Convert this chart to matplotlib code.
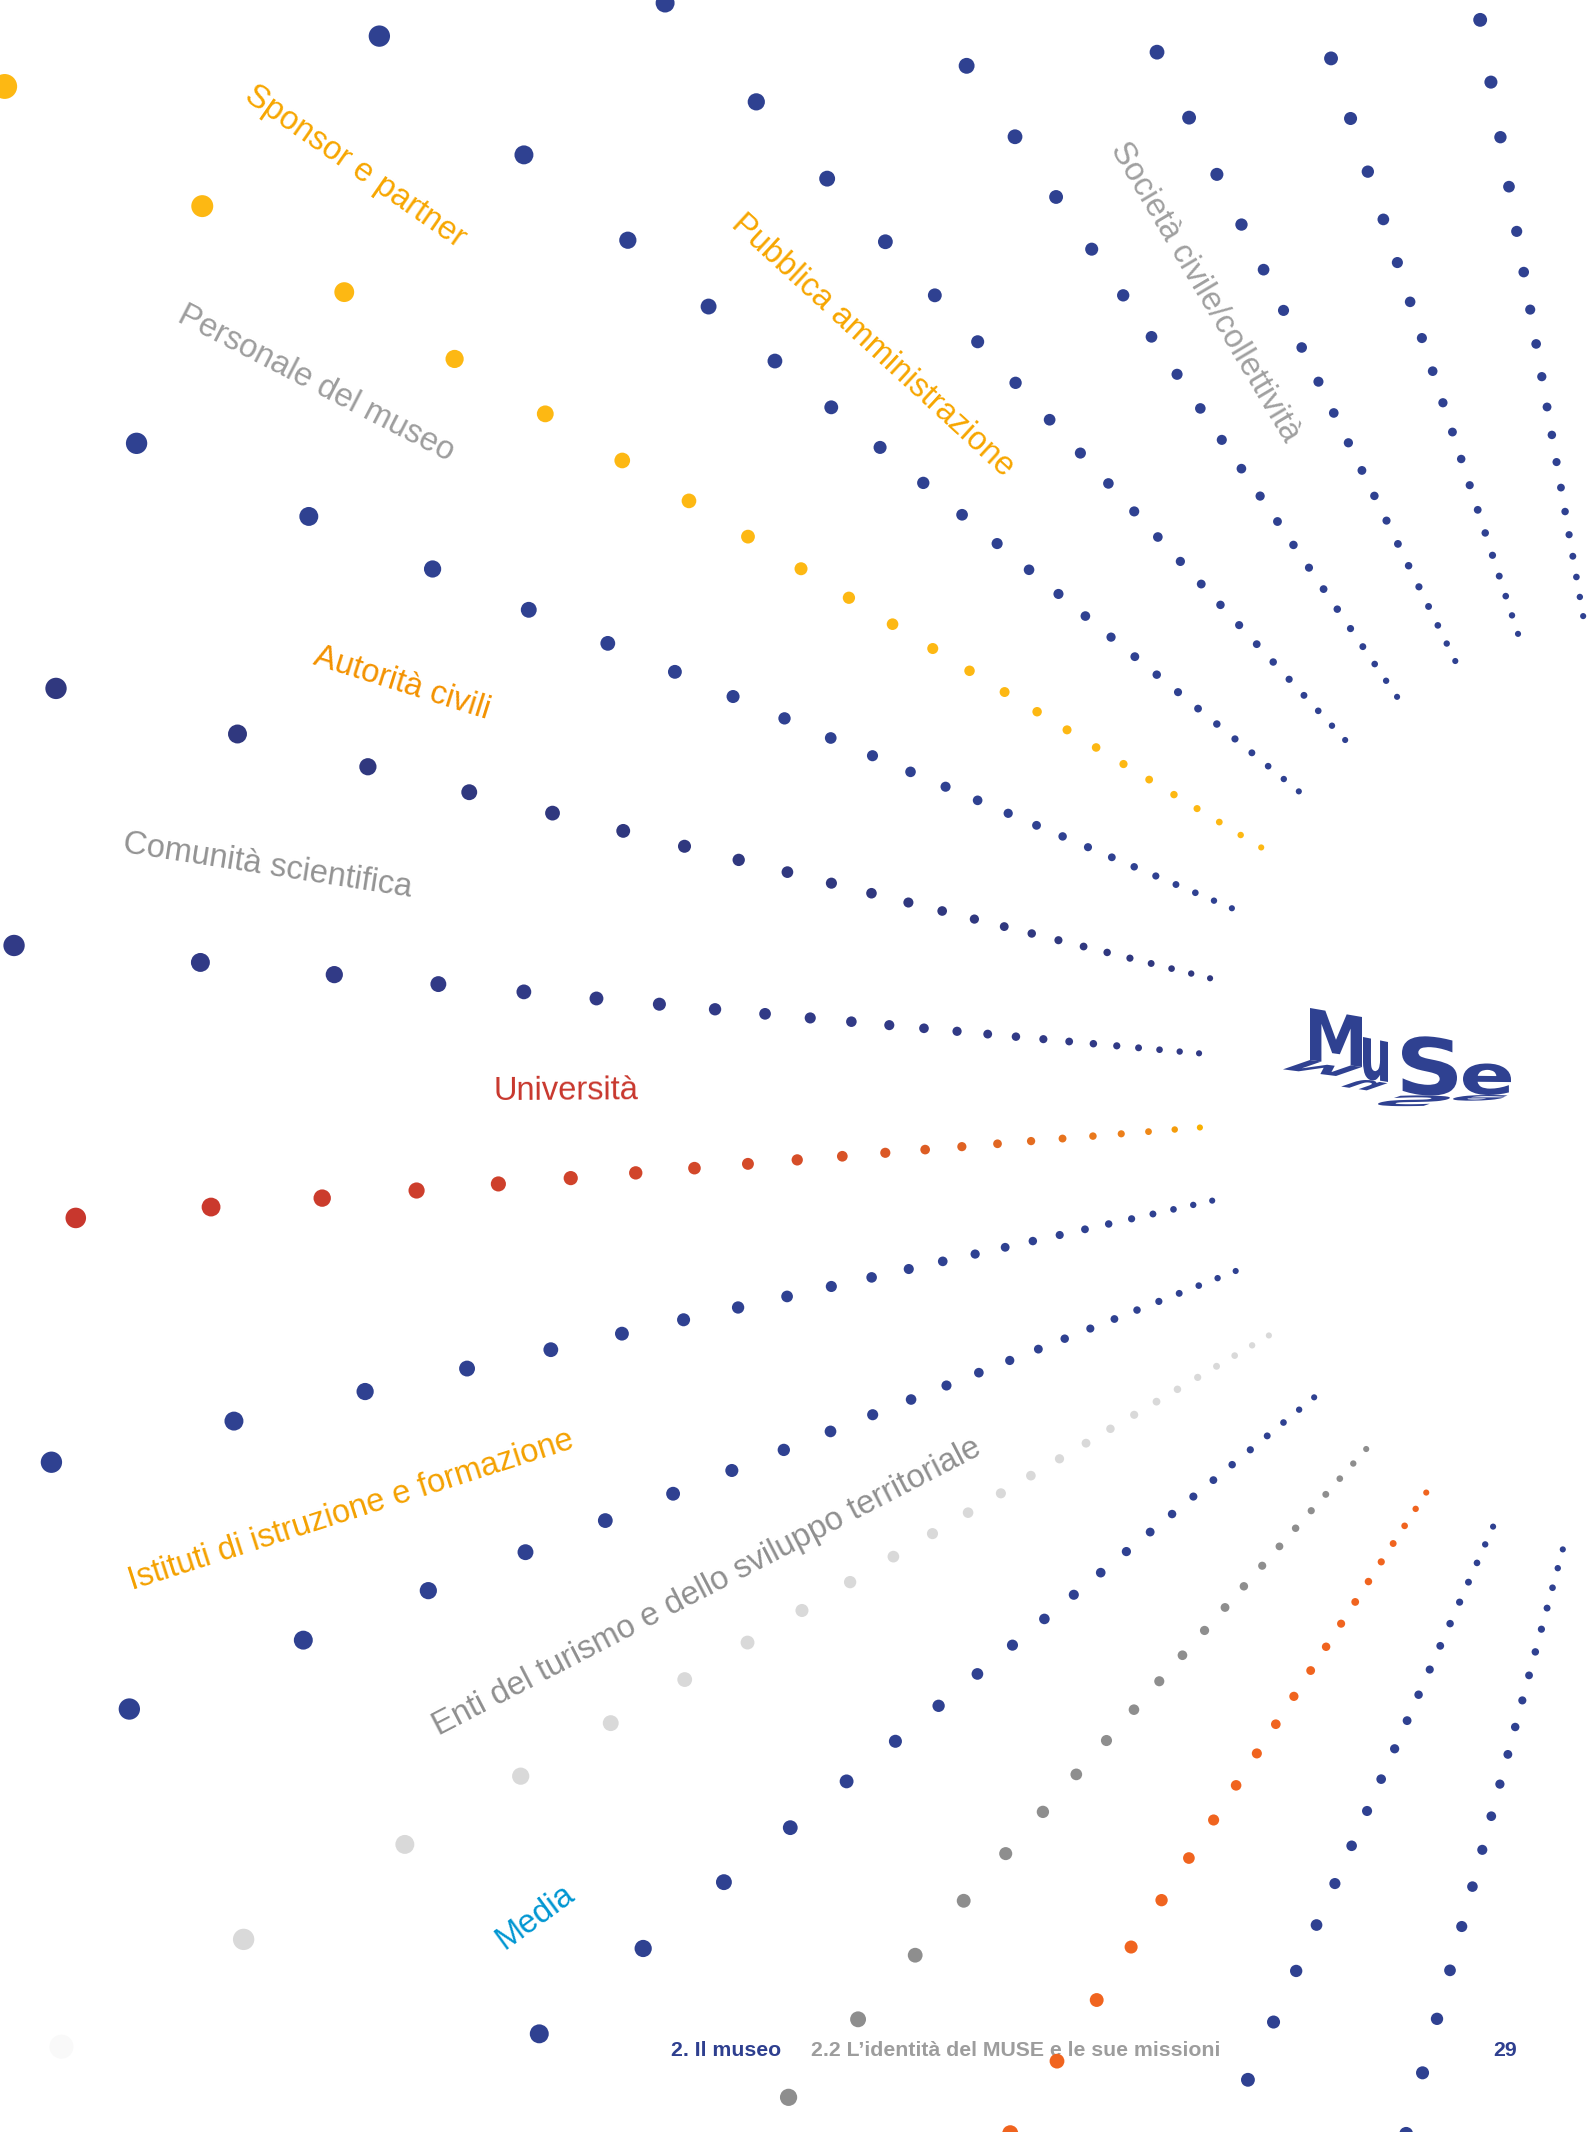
import numpy as np
import matplotlib
matplotlib.use("Agg")
import matplotlib.pyplot as plt
from matplotlib.colors import LinearSegmentedColormap
from matplotlib.textpath import TextPath
from matplotlib.font_manager import FontProperties
from matplotlib.patches import PathPatch
from matplotlib.path import Path

plt.rcParams['font.family'] = ['Liberation Sans', 'DejaVu Sans']

W, H = 1588, 2132
NAVY = '#2f4191'

# the fan: first dot of every ray sits on a circle round this point (page pixels, y down)
centre = (1676, 1085)
inner_radius = 478

# angle of each ray's first dot on that circle, and the heading of the ray itself (degrees, y down)
ray_anchor = [258.8, 250.7, 242.5, 234.3, 226.2, 217.9, 209.8, 201.7, 192.9, 183.8,
              174.9, 166.0, 157.1, 148.4, 139.2, 130.4, 121.5, 112.5, 103.7]
ray_heading = [260.2, 252.0, 243.9, 235.7, 227.3, 219.4, 211.2, 203.0, 194.1, 185.2,
               175.4, 167.3, 158.4, 149.5, 140.6, 131.7, 123.0, 113.9, 105.0]
# how spread out each ray is compared with the yellow one
ray_stretch = [0.81, 0.81, 0.81, 0.81, 0.81, 0.81, 1.0, 0.81, 0.81, 0.81,
               1.052, 0.81, 0.81, 0.81, 0.81, 0.81, 0.81, 0.81, 0.81]
ray_color = [NAVY, NAVY, NAVY, NAVY, NAVY, NAVY, '#fdb813', NAVY, '#30387f', '#313a86',
             'univ', NAVY, NAVY, 'light', NAVY, '#8e8e8e', '#f0641f', NAVY, NAVY]

# distance of each dot from the first one, read along the yellow ray
dot_steps = [0, 24, 49, 75, 102, 131, 161, 193, 227, 262, 300, 341, 384, 431, 482,
             538, 600, 669, 747, 837, 943, 1072, 1238, 1469, 1730]

labels = ['Sponsor e partner', 'Personale del museo', 'Pubblica amministrazione',
          'Società civile/collettività', 'Autorità civili', 'Comunità scientifica',
          'Università', 'Istituti di istruzione e formazione',
          'Enti del turismo e dello sviluppo territoriale', 'Media']
label_angle = [214.8, 207.3, 222.6, 239.3, 197.5, 188.85, 179.7, 162.2, 152.6, 143.9]
label_radius = [1609, 1530, 1092, 922, 1336, 1425, 1110, 1391, 1091, 1412]
label_color = ['#f7a600', '#9d9d9d', '#f7a600', '#a0a0a0', '#f39200', '#939393',
               '#c8372d', '#f4a100', '#8f8f8f', '#0096d2']

footer_left = '2. Il museo'
footer_mid = '2.2 L\u2019identità del MUSE e le sue missioni'
page_number = '29'

univ_cmap = LinearSegmentedColormap.from_list(
    'univ', [(0, '#f9b000'), (0.1, '#ee8518'), (0.3, '#e36a21'), (0.6, '#d54b29'), (1, '#c8372d')])


def dot_colors(name, n):
    if name == 'univ':
        return [univ_cmap(min(k / 21, 1)) for k in range(n)]
    if name == 'light':
        # the outermost grey dot is almost white
        return ['#d9d9d9'] * (n - 1) + ['#f9f9f9']
    return [name] * n


fig = plt.figure(figsize=(W / 100, H / 100), dpi=100)
ax = fig.add_axes([0, 0, 1, 1])
ax.set_xlim(0, W)
ax.set_ylim(H, 0)
ax.axis('off')

cx, cy = centre
steps = np.array(dot_steps, dtype=float)
for i in range(len(ray_anchor)):
    a = np.radians(ray_anchor[i])
    hd = np.radians(ray_heading[i])
    x0 = cx + inner_radius * np.cos(a)
    y0 = cy + inner_radius * np.sin(a)
    d = steps * ray_stretch[i]
    xs = x0 + d * np.cos(hd)
    ys = y0 + d * np.sin(hd)
    # dots grow with their distance from the centre
    diam_px = 0.0128 * np.hypot(xs - cx, ys - cy)
    ax.scatter(xs, ys, s=(diam_px * 0.72) ** 2, c=dot_colors(ray_color[i], len(xs)),
               linewidths=0, zorder=2)

for txt, ang, rad, col in zip(labels, label_angle, label_radius, label_color):
    a = np.radians(ang)
    ax.text(cx + rad * np.cos(a), cy + rad * np.sin(a), txt, rotation=180 - ang,
            rotation_mode='anchor', ha='center', va='center', fontsize=23.5, color=col, zorder=3)

# MuSe logo: letters in perspective, each with a flat shadow thrown to the lower left
logo_font = FontProperties(family='DejaVu Sans', weight='bold')
logo_letters = ['M', 'u', 'S', 'e']
logo_left = [1310, 1363, 1402, 1463]
logo_right = [1362, 1388, 1457, 1511]
logo_top = [(1008, 1017), (1037, 1042), (1035, 1038), (1063, 1064)]
logo_base = [(1060, 1067), (1079, 1083), (1095, 1096), (1095, 1095)]

for ch, x0, x1, top, base in zip(logo_letters, logo_left, logo_right, logo_top, logo_base):
    tp = TextPath((0, 0), ch, size=100, prop=logo_font)
    ext = tp.get_extents()
    u = (tp.vertices[:, 0] - ext.x0) / ext.width
    h = (tp.vertices[:, 1] - ext.y0) / ext.height
    bx = x0 + u * (x1 - x0)
    by = base[0] + u * (base[1] - base[0])
    ht = by - (top[0] + u * (top[1] - top[0]))
    shadow = np.column_stack([bx - 0.52 * h * ht, by + 0.18 * h * ht])
    ax.add_patch(PathPatch(Path(shadow, tp.codes), fc=NAVY, ec='none', zorder=4))
    letter = np.column_stack([bx, by - h * ht])
    ax.add_patch(PathPatch(Path(letter, tp.codes), fc=NAVY, ec='none', zorder=4))

# footer
ax.text(671, 2056, footer_left, fontsize=15.3, fontweight='bold', color='#2e3f8f',
        va='baseline', ha='left', zorder=1)
ax.text(811, 2056, footer_mid, fontsize=15.3, fontweight='bold', color='#9d9d9d',
        va='baseline', ha='left', zorder=1)
ax.text(1517, 2056, page_number, fontsize=15.3, fontweight='bold', color='#2e3f8f',
        va='baseline', ha='right', zorder=1)

fig.savefig('out.png', dpi=100, facecolor='white')
